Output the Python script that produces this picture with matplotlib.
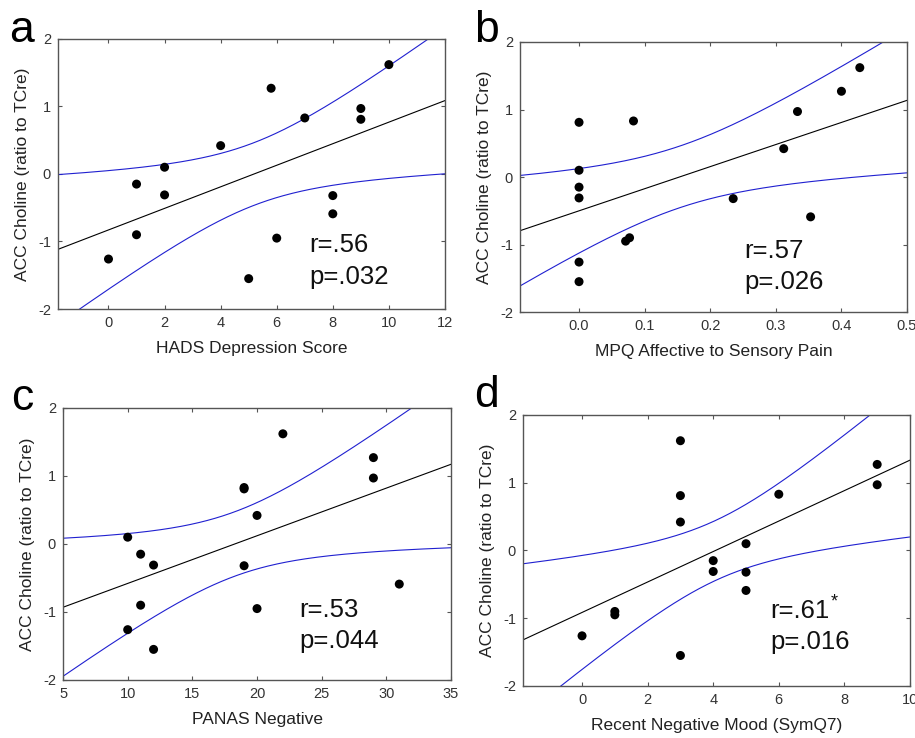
import numpy as np
import matplotlib
matplotlib.use("Agg")
import matplotlib.pyplot as plt

plt.rcParams['font.family'] = ['Liberation Sans', 'DejaVu Sans']

# ---- data ----
hads_x = [0, 1, 1, 2, 2, 4, 5, 5.8, 6, 7, 8, 8, 9, 9, 10]
hads_y = [-1.26, -0.15, -0.90, 0.10, -0.31, 0.42, -1.55, 1.27, -0.95, 0.83, -0.32, -0.59, 0.97, 0.81, 1.62]

mpq_x = [0, 0, 0, 0, 0, 0, 0.083, 0.071, 0.077, 0.235, 0.312, 0.333, 0.353, 0.40, 0.428]
mpq_y = [0.81, 0.10, -0.15, -0.31, -1.26, -1.55, 0.83, -0.95, -0.90, -0.32, 0.42, 0.97, -0.59, 1.27, 1.62]

panas_x = [10, 11, 12, 11, 10, 12, 19, 19, 20, 19, 20, 22, 29, 29, 31]
panas_y = [0.10, -0.15, -0.31, -0.90, -1.26, -1.55, 0.83, 0.81, 0.42, -0.32, -0.95, 1.62, 1.27, 0.97, -0.59]

symq_x = [0, 1, 1, 3, 3, 3, 3, 4, 4, 5, 5, 5, 6, 9, 9]
symq_y = [-1.26, -0.90, -0.95, 1.62, 0.81, 0.42, -1.55, -0.15, -0.31, 0.10, -0.32, -0.59, 0.83, 1.27, 0.97]

panel_letters = ['a', 'b', 'c', 'd']
x_labels = ['HADS Depression Score', 'MPQ Affective to Sensory Pain',
            'PANAS Negative', 'Recent Negative Mood (SymQ7)']
y_label = 'ACC Choline (ratio to TCre)'
r_texts = ['r=.56', 'r=.57', 'r=.53', 'r=.61']
p_texts = ['p=.032', 'p=.026', 'p=.044', 'p=.016']
stars = ['', '', '', '*']
x_ticks = [[0, 2, 4, 6, 8, 10, 12],
           [0.0, 0.1, 0.2, 0.3, 0.4, 0.5],
           [5, 10, 15, 20, 25, 30, 35],
           [0, 2, 4, 6, 8, 10]]
x_ticklabels = [['0', '2', '4', '6', '8', '10', '12'],
                ['0.0', '0.1', '0.2', '0.3', '0.4', '0.5'],
                ['5', '10', '15', '20', '25', '30', '35'],
                ['0', '2', '4', '6', '8', '10']]
x_lims = [(-1.8, 12), (-0.09, 0.5), (5, 35), (-1.8, 10)]
y_ticks = [-2, -1, 0, 1, 2]
y_ticklabels = ['-2', '-1', '0', '1', '2']

datasets = [(hads_x, hads_y), (mpq_x, mpq_y), (panas_x, panas_y), (symq_x, symq_y)]

# layout (figure fractions)
axes_pos = [[0.0634, 0.5813, 0.4229, 0.3659],
            [0.5683, 0.5772, 0.4230, 0.3659],
            [0.0689, 0.0786, 0.4240, 0.3686],
            [0.5716, 0.0705, 0.4229, 0.3672]]
letter_pos = [(0.010, 0.943), (0.518, 0.943), (0.012, 0.445), (0.518, 0.448)]
text_pos = [(0.649, 0.237, 0.119), (0.579, 0.226, 0.111),
            (0.608, 0.257, 0.143), (0.638, 0.277, 0.162)]

fig = plt.figure(figsize=(9.15, 7.38), dpi=100)
T_CRIT = 2.1604  # t(0.975, df=13)

spine_col = '#555555'
for i, (xs, ys) in enumerate(datasets):
    x = np.asarray(xs, float)
    y = np.asarray(ys, float)
    ax = fig.add_axes(axes_pos[i])
    n = len(x)
    slope, icpt = np.polyfit(x, y, 1)
    resid = y - (slope * x + icpt)
    s = np.sqrt(np.sum(resid ** 2) / (n - 2))
    sxx = np.sum((x - x.mean()) ** 2)
    xx = np.linspace(x_lims[i][0], x_lims[i][1], 300)
    yy = slope * xx + icpt
    half = T_CRIT * s * np.sqrt(1.0 / n + (xx - x.mean()) ** 2 / sxx)
    ax.plot(xx, yy, color='black', lw=0.8)
    ax.plot(xx, yy + half, color='#2020d0', lw=0.8)
    ax.plot(xx, yy - half, color='#2020d0', lw=0.8)
    ax.scatter(x, y, s=42, color='black', zorder=5, edgecolors='none')

    ax.set_xlim(*x_lims[i])
    ax.set_ylim(-2, 2)
    ax.set_xticks(x_ticks[i])
    ax.set_xticklabels(x_ticklabels[i])
    ax.set_yticks(y_ticks)
    ax.set_yticklabels(y_ticklabels)
    ax.tick_params(direction='in', length=3, width=0.8, color=spine_col,
                   top=True, right=True, labelsize=10.5, labelcolor='#333333', pad=5)
    for sp in ax.spines.values():
        sp.set_color(spine_col)
        sp.set_linewidth(1.0)
    ax.set_xlabel(x_labels[i], fontsize=12.5, labelpad=8, color='#222222')
    ax.set_ylabel(y_label, fontsize=12.5, labelpad=6, color='#222222')

    tx, ry, py = text_pos[i]
    t = ax.text(tx, ry, r_texts[i], transform=ax.transAxes, fontsize=18.5,
                ha='left', va='center', color='#111111')
    ax.text(tx, py, p_texts[i], transform=ax.transAxes, fontsize=18.5,
            ha='left', va='center', color='#111111')
    if stars[i]:
        ax.annotate(stars[i], xy=(1.0, 1.0), xycoords=t, xytext=(1, -2),
                    textcoords='offset points', ha='left', va='center',
                    fontsize=13, color='#111111')

    lx, ly = letter_pos[i]
    fig.text(lx, ly, panel_letters[i], fontsize=32, ha='left', va='baseline',
             color='black')

fig.savefig('out.png', dpi=100)
